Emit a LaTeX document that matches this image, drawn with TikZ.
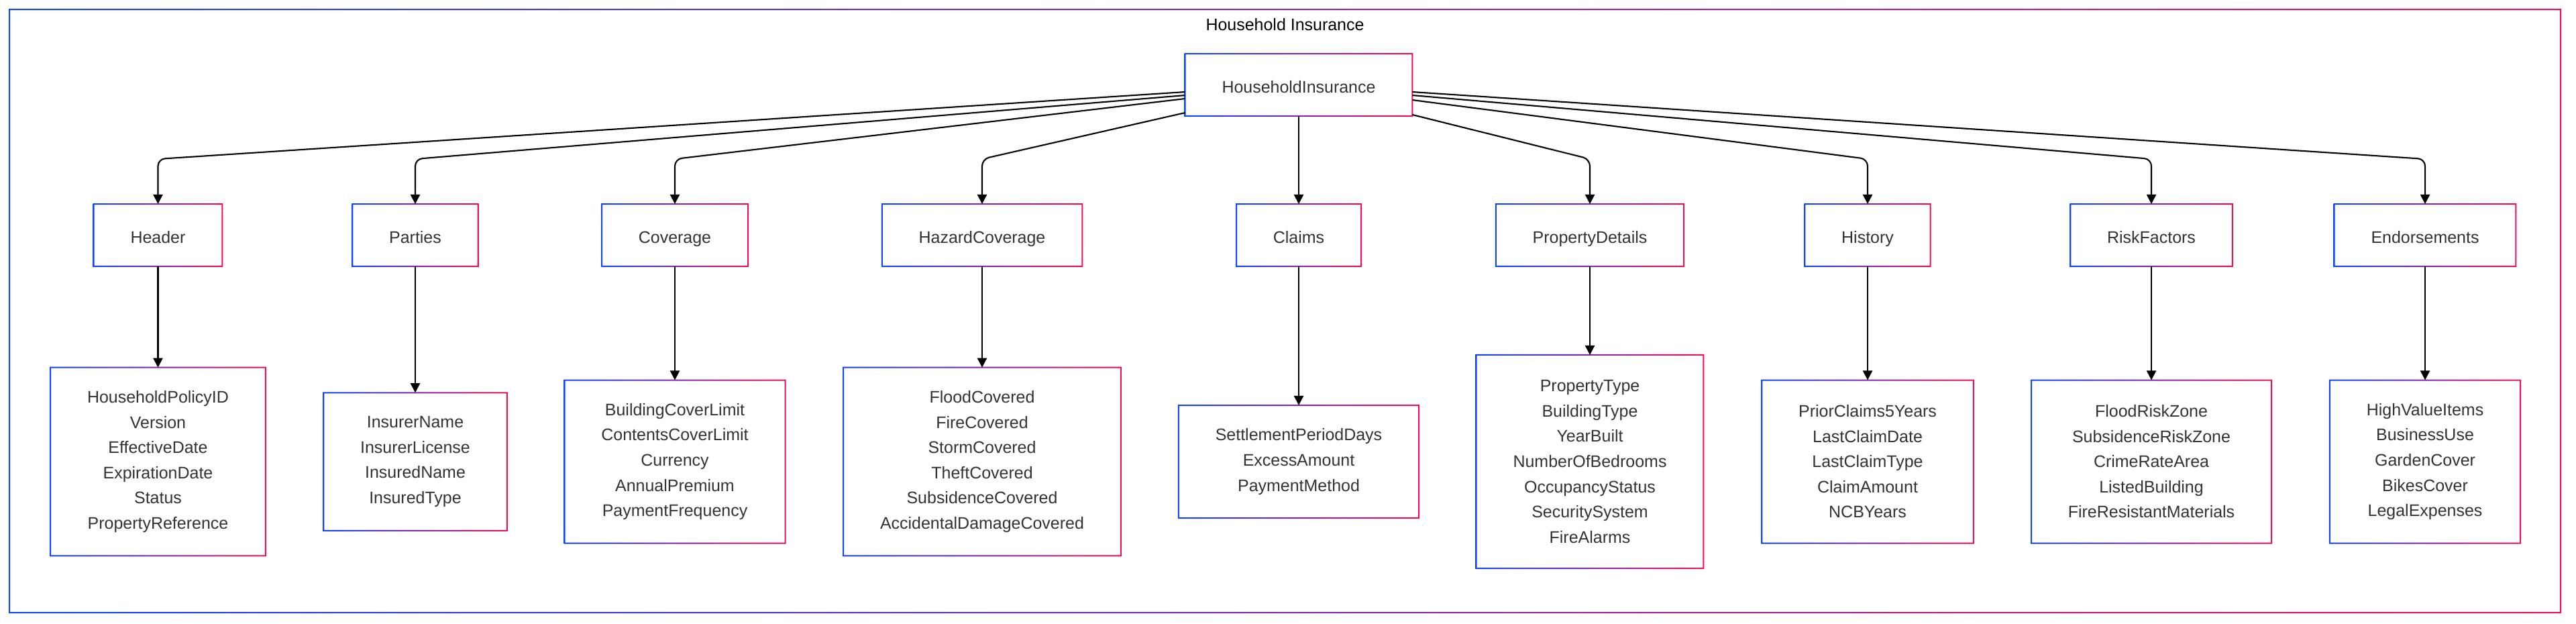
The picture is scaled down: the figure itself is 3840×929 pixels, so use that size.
\documentclass[tikz,border=0pt]{standalone}
\usepackage{fontspec}
\setmainfont{Liberation Sans}
\usetikzlibrary{arrows.meta, positioning, calc}
\definecolor{edgeblue}{RGB}{17,68,255}
\definecolor{edgered}{RGB}{238,17,85}
\definecolor{labelgray}{RGB}{51,51,51}
\tikzset{
  fieldbox/.style={fill=white, align=center, font=\fontsize{7.1}{10.67}\selectfont,
                   text=labelgray, inner xsep=15.4pt, inner ysep=0pt,
                   minimum height={(#1*0.375+0.54)*1cm}},
  sectionbox/.style={fieldbox=1, text height=0.905em, text depth=0.212em},
  link/.style={-{Triangle[length=4pt, width=4pt]}, line width=0.6pt, rounded corners=3pt},
}
% gradient border between two corners (px units)
\newcommand{\gradframe}[2]{%
  \shade[left color=edgeblue, right color=edgered, even odd rule]
    ($#1+(-1,-1)$) rectangle ($#2+(1,1)$)
    ($#1+(1,1)$) rectangle ($#2+(-1,-1)$);}

\begin{document}
\begin{tikzpicture}[x=0.01cm, y=-0.01cm]
\useasboundingbox (0,0) rectangle (3840,929);

% outer frame
\coordinate (framenw) at (14,14);
\coordinate (framese) at (3817,913);
\gradframe{(framenw)}{(framese)}
\node[font=\fontsize{7.1}{10.67}\selectfont, text height=0.905em, text depth=0.212em] (title) at (1915.5,33) {Household Insurance};

% top
\node[sectionbox] (policy) at (1936,126.5) {HouseholdInsurance};

% sections
\node[sectionbox] (hdr)  at (235.5,350.5) {Header};
\node[sectionbox] (part) at (619,350.5)   {Parties};
\node[sectionbox] (cov)  at (1006,350.5)  {Coverage};
\node[sectionbox] (haz)  at (1464,350.5)  {HazardCoverage};
\node[sectionbox] (clm)  at (1936,350.5)  {Claims};
\node[sectionbox] (prop) at (2370,350.5)  {PropertyDetails};
\node[sectionbox] (hist) at (2784,350.5)  {History};
\node[sectionbox] (risk) at (3207,350.5)  {RiskFactors};
\node[sectionbox] (endo) at (3615,350.5)  {Endorsements};

% fields
\node[fieldbox=6] (hdrf)  at (235.5,688) {HouseholdPolicyID\\Version\\EffectiveDate\\ExpirationDate\\Status\\PropertyReference};
\node[fieldbox=4] (partf) at (619,688)   {InsurerName\\InsurerLicense\\InsuredName\\InsuredType};
\node[fieldbox=5] (covf)  at (1006,688)  {BuildingCoverLimit\\ContentsCoverLimit\\Currency\\AnnualPremium\\PaymentFrequency};
\node[fieldbox=6] (hazf)  at (1464,688)  {FloodCovered\\FireCovered\\StormCovered\\TheftCovered\\SubsidenceCovered\\AccidentalDamageCovered};
\node[fieldbox=3] (clmf)  at (1936,688)  {SettlementPeriodDays\\ExcessAmount\\PaymentMethod};
\node[fieldbox=7] (propf) at (2370,688)  {PropertyType\\BuildingType\\YearBuilt\\NumberOfBedrooms\\OccupancyStatus\\SecuritySystem\\FireAlarms};
\node[fieldbox=5] (histf) at (2784,688)  {PriorClaims5Years\\LastClaimDate\\LastClaimType\\ClaimAmount\\NCBYears};
\node[fieldbox=5] (riskf) at (3207,688)  {FloodRiskZone\\SubsidenceRiskZone\\CrimeRateArea\\ListedBuilding\\FireResistantMaterials};
\node[fieldbox=5] (endof) at (3615,688)  {HighValueItems\\BusinessUse\\GardenCover\\BikesCover\\LegalExpenses};

\foreach \n in {policy,hdr,part,cov,haz,clm,prop,hist,risk,endo,hdrf,partf,covf,hazf,clmf,propf,histf,riskf,endof}
  \gradframe{(\n.north west)}{(\n.south east)};

% edges
\coordinate (bend) at (0,237);
\draw[link] ($(policy.west)+(0,10.5)$) -- (hdr |- bend) -- (hdr.north);
\draw[link] ($(policy.west)+(0,15.5)$) -- (part |- bend) -- (part.north);
\draw[link] ($(policy.west)+(0,20.5)$) -- (cov |- bend) -- (cov.north);
\draw[link] ($(policy.south west)+(0,-5)$) -- (haz |- bend) -- (haz.north);
\draw[link] (policy.south) -- (clm.north);
\draw[link] ($(policy.south east)+(0,-2)$) -- (prop |- bend) -- (prop.north);
\draw[link] ($(policy.east)+(0,22.5)$) -- (hist |- bend) -- (hist.north);
\draw[link] ($(policy.east)+(0,15.5)$) -- (risk |- bend) -- (risk.north);
\draw[link] ($(policy.east)+(0,10.5)$) -- (endo |- bend) -- (endo.north);

\foreach \s/\f in {hdr/hdrf,part/partf,cov/covf,haz/hazf,clm/clmf,prop/propf,hist/histf,risk/riskf,endo/endof}
  \draw[link] (\s.south) -- (\f.north);
\end{tikzpicture}
\end{document}
